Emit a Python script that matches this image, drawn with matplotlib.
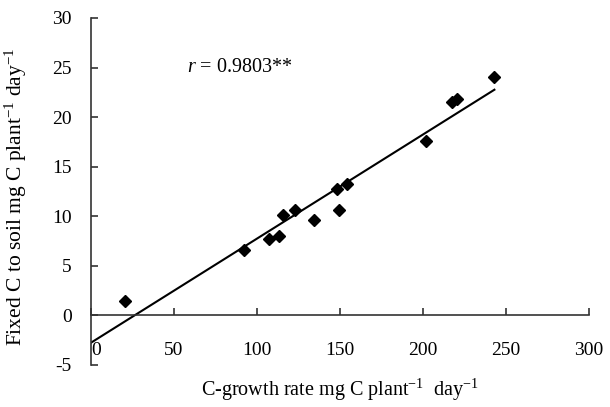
import numpy as np
import matplotlib
matplotlib.use("Agg")
import matplotlib.pyplot as plt

plt.rcParams["font.family"] = ["Liberation Serif", "DejaVu Serif"]
plt.rcParams["mathtext.fontset"] = "custom"
plt.rcParams["mathtext.rm"] = "Liberation Serif"
plt.rcParams["mathtext.it"] = "Liberation Serif:italic"
plt.rcParams["axes.unicode_minus"] = False

# C-growth rate (mg C plant-1 day-1) vs fixed C to soil (mg C plant-1 day-1)
growth_rate = [20.5, 92.3, 107.4, 113.3, 115.8, 123.1, 134.3, 148.4, 149.6, 154.0,
               201.8, 217.3, 220.3, 243.0]
fixed_c = [1.5, 6.56, 7.67, 8.0, 10.17, 10.61, 9.65, 12.78, 10.67, 13.29,
           17.6, 21.5, 21.8, 24.0]

# regression line as drawn in the figure
fit_slope = 0.105
fit_intercept = -2.75

x_ticks = [0, 50, 100, 150, 200, 250, 300]
y_ticks = [-5, 0, 5, 10, 15, 20, 25, 30]
r_label = r"$r$ = 0.9803**"

x = np.array(growth_rate)
y = np.array(fixed_c)
fit_x = np.array([0, x.max()])

fig = plt.figure(figsize=(6.1, 4.07), dpi=100)
ax = fig.add_axes([0.1492, 0.1032, 0.8164, 0.8526])

ax.plot(fit_x, fit_slope * fit_x + fit_intercept, color="black", lw=1.5, zorder=2)
ax.plot(x, y, linestyle="none", marker="D", markersize=6, color="black", zorder=3)

ax.set_xlim(0, 300)
ax.set_ylim(-5, 30)
ax.set_xticks(x_ticks)
ax.set_yticks(y_ticks)

ax.spines["top"].set_visible(False)
ax.spines["right"].set_visible(False)
ax.spines["bottom"].set_position(("data", 0))
for s in ("left", "bottom"):
    ax.spines[s].set_color("#333333")
    ax.spines[s].set_linewidth(1.2)

ax.tick_params(axis="x", direction="in", length=5, width=1.2, color="#333333",
               pad=19, labelsize=14)
ax.tick_params(axis="y", direction="in", length=5, width=1.2, color="#333333",
               pad=14, labelsize=14)
ax.get_xticklabels()[0].set_horizontalalignment("left")

ax.text(58, 25, r_label, fontsize=14.5, va="center", ha="left")

ax.set_xlabel(r"C-growth rate mg C plant$^{-1}$  day$^{-1}$", fontsize=14.5)
ax.set_ylabel(r"Fixed C to soil mg C plant$^{-1}$ day$^{-1}$", fontsize=15.5)
ax.xaxis.set_label_coords(0.5, -0.035)
ax.yaxis.set_label_coords(-0.125, 0.484)

fig.savefig("out.png", dpi=100)
